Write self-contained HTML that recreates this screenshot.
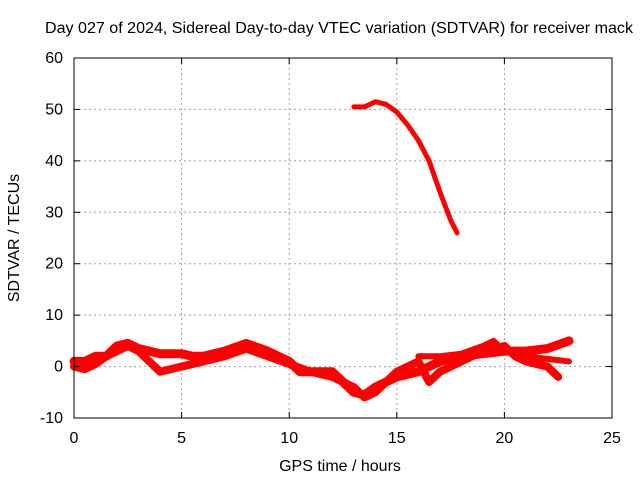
<!DOCTYPE html>
<html><head><meta charset="utf-8"><style>
body{margin:0;background:#fff}
svg{display:block;font-family:"Liberation Sans",sans-serif;font-size:16px}
</style></head><body>
<svg id="chart" width="640" height="480">
<text x="339" y="33" text-anchor="middle" textLength="588" lengthAdjust="spacingAndGlyphs">Day 027 of 2024, Sidereal Day-to-day VTEC variation (SDTVAR) for receiver mack</text>
<g id="grid"></g>
<g id="series"></g>
<rect x="74" y="58" width="538" height="360" fill="none" stroke="#000"/>
<g id="ticks"></g>
<text x="340" y="471" text-anchor="middle">GPS time / hours</text>
<text transform="translate(19,238) rotate(-90)" text-anchor="middle">SDTVAR / TECUs</text>
</svg>
<script>
const xTicks=[0,5,10,15,20,25];
const yTicks=[-10,0,10,20,30,40,50,60];
const trackAx=[0,0.5,1,1.5,2,2.5,3,3.5,4,5,5.5,6,7,8,9,10,10.5,11,12,12.5,13,13.5,14,14.5,15,16,17,18,19,20,21,22,23];
const trackAy=[1,1,2,2,4,4.5,3.5,3,2.5,2.5,2,2,3,4.5,3,1,-1,-1,-1,-3,-5,-5.5,-4,-3,-2,-1,1,2,2.5,3,3,3.5,5];
const trackBx=[0,0.5,1,1.5,2,2.5,3,4,5,6,7,8,9,10,11,12,13,13.5,14,15,16,16.5,17,18,19,20,20.5,21,22,22.5];
const trackBy=[0,-0.5,0.5,2,3,4,3,-1,0,1,2,3.5,2,0.5,-1,-2,-4,-6,-5,-1,1,-3,-1,1,3,4,2,1,0,-2];
const trackCx=[16,17,18,19,19.5,20,21,22,23];
const trackCy=[2,2,2.5,4,5,3,2,1.5,1];
const topX=[13,13.5,14,14.5,15,15.5,16,16.5,17,17.5,17.8];
const topY=[50.5,50.5,51.5,51,49.5,47,44,40,34,28.5,26];
const X=v=>74+v*538/25, Y=v=>418-(v+10)*360/70;
const NS="http://www.w3.org/2000/svg";
function mk(t,a,p){const e=document.createElementNS(NS,t);for(const k in a)e.setAttribute(k,a[k]);p.appendChild(e);return e;}
const grid=document.getElementById('grid'),ticks=document.getElementById('ticks'),series=document.getElementById('series');
xTicks.forEach(v=>{
 if(v>0&&v<25){const l=mk('line',{x1:X(v),x2:X(v),y1:58,y2:418,stroke:'#a0a0a0','stroke-dasharray':'2,3'},grid);}
 const t=mk('text',{x:X(v),y:443,'text-anchor':'middle'},ticks);t.textContent=v;
 
 mk('line',{x1:X(v),x2:X(v),y1:418,y2:412,stroke:'#000'},ticks);mk('line',{x1:X(v),x2:X(v),y1:58,y2:64,stroke:'#000'},ticks);
});
yTicks.forEach(v=>{
 if(v>-10&&v<60){const l=mk('line',{x1:74,x2:612,y1:Y(v),y2:Y(v),stroke:'#a0a0a0','stroke-dasharray':'2,3'},grid);}
 const t=mk('text',{x:63,y:Y(v)+5,'text-anchor':'end'},ticks);t.textContent=v;
 
 mk('line',{x1:74,x2:80,y1:Y(v),y2:Y(v),stroke:'#000'},ticks);mk('line',{x1:612,x2:606,y1:Y(v),y2:Y(v),stroke:'#000'},ticks);
});
function track(xs,ys,w,name){
 const p=mk('polyline',{points:xs.map((x,i)=>X(x)+','+Y(ys[i])).join(' '),fill:'none',stroke:'#f00','stroke-width':w,'stroke-linejoin':'round','stroke-linecap':'round'},series);
 
}
track(trackAx,trackAy,9,'series-track-a');
track(trackBx,trackBy,8,'series-track-b');
track(trackCx,trackCy,6,'series-track-c');
track(topX,topY,5,'series-track-top');
</script>
</body></html>
